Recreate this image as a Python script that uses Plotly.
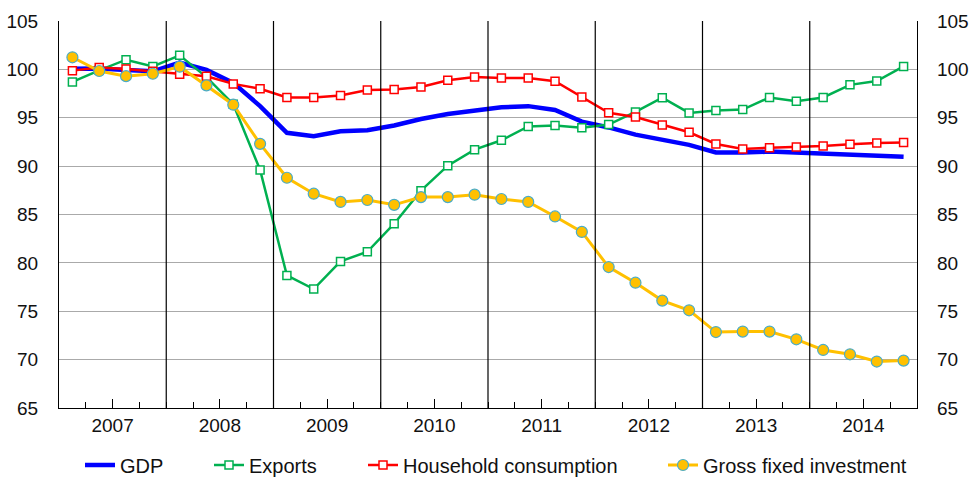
import plotly.graph_objects as go

years = ["2007", "2008", "2009", "2010", "2011", "2012", "2013", "2014"]
quarters_per_year = 4

gdp = [100.07, 100.1, 99.94, 99.8, 100.7, 99.95, 98.6, 96.2,
       93.45, 93.1, 93.6, 93.7, 94.2, 94.87, 95.39, 95.73,
       96.08, 96.2, 95.8, 94.6, 94.0, 93.25, 92.7, 92.2,
       91.42, 91.4, 91.5, 91.4, 91.3, 91.15, 91.05, 90.98]
exports = [98.7, 99.9, 101.0, 100.3, 101.45, 99.2, 96.4, 89.6,
           78.7, 77.3, 80.15, 81.15, 84.05, 87.46, 90.05, 91.7,
           92.67, 94.1, 94.2, 93.97, 94.3, 95.6, 97.07, 95.5,
           95.75, 95.85, 97.1, 96.7, 97.1, 98.4, 98.8, 100.3]
household = [99.87, 100.2, 100.04, 99.8, 99.5, 99.28, 98.5, 98.0,
             97.1, 97.1, 97.3, 97.87, 97.93, 98.18, 98.87, 99.2,
             99.1, 99.1, 98.77, 97.15, 95.52, 95.08, 94.25, 93.5,
             92.29, 91.77, 91.9, 91.98, 92.08, 92.25, 92.4, 92.43]
investment = [101.25, 99.83, 99.3, 99.55, 100.28, 98.35, 96.35, 92.3,
              88.8, 87.15, 86.3, 86.5, 86.0, 86.8, 86.8, 87.05,
              86.6, 86.3, 84.8, 83.2, 79.57, 77.95, 76.1, 75.1,
              72.85, 72.9, 72.9, 72.1, 71.0, 70.55, 69.8, 69.9]
y_ticks = [65, 70, 75, 80, 85, 90, 95, 100, 105]

n = len(gdp)
x = list(range(n))
year_centers = [i * quarters_per_year + 1.5 for i in range(len(years))]
year_bounds = [i * quarters_per_year - 0.5 for i in range(1, len(years))]

FONT = "Liberation Sans, Arial, Helvetica, sans-serif"
TXT = "#111"
W, H = 971, 477
fig = go.Figure()

fig.add_trace(go.Scatter(x=x, y=gdp, name="GDP", mode="lines",
                         line=dict(color="#0000FF", width=4.5), legend="legend"))
fig.add_trace(go.Scatter(x=x, y=exports, name="Exports", mode="lines+markers",
                         line=dict(color="#00B050", width=2.5),
                         marker=dict(symbol="square", size=8, color="white",
                                     line=dict(color="#00B050", width=1.5)),
                         legend="legend2"))
fig.add_trace(go.Scatter(x=x, y=household, name="Household consumption", mode="lines+markers",
                         line=dict(color="#FF0000", width=2.5),
                         marker=dict(symbol="square", size=8, color="white",
                                     line=dict(color="#FF0000", width=1.5)),
                         legend="legend3"))
fig.add_trace(go.Scatter(x=x, y=investment, name="Gross fixed investment", mode="lines+markers",
                         line=dict(color="#FFC000", width=3),
                         marker=dict(symbol="circle", size=11, color="#FFC000",
                                     line=dict(color="#4BACC6", width=1.2)),
                         legend="legend4"))
# invisible trace to activate the right-hand axis
fig.add_trace(go.Scatter(x=[x[0]], y=[gdp[0]], yaxis="y2", mode="markers",
                         marker=dict(opacity=0), showlegend=False, hoverinfo="skip"))

for b in year_bounds:
    fig.add_shape(type="line", xref="x", yref="paper", x0=b, x1=b, y0=0, y1=1,
                  line=dict(color="black", width=1.2), layer="above")

yaxis_common = dict(range=[65, 105], tickvals=y_ticks, showline=True, linecolor="black",
                    linewidth=1.2, ticks="outside", tickcolor="rgba(0,0,0,0)",
                    tickfont=dict(size=19, color=TXT, family=FONT), zeroline=False,
                    automargin=False)

legend_common = dict(orientation="h", yref="container", xref="container",
                     yanchor="middle", y=(H - 465) / H, xanchor="left",
                     font=dict(size=20, color=TXT, family=FONT),
                     bgcolor="rgba(0,0,0,0)", borderwidth=0, tracegroupgap=0)

def lx(px):
    return px / W

fig.update_layout(
    width=W, height=H,
    margin=dict(l=59, r=54, t=21, b=69, autoexpand=False),
    plot_bgcolor="white", paper_bgcolor="white",
    font=dict(family=FONT, size=19, color=TXT),
    xaxis=dict(range=[-0.5, n - 0.5], tickvals=year_centers, ticktext=years,
               ticks="inside", ticklen=9, tickcolor="black", tickwidth=1,
               showline=True, linecolor="black", linewidth=1.2, showgrid=False,
               zeroline=False, automargin=False,
               tickfont=dict(size=19, color=TXT, family=FONT),
               minor=dict(tickmode="linear", tick0=-0.5, dtick=1, ticks="inside",
                          ticklen=6, tickcolor="black", tickwidth=1, showgrid=False)),
    yaxis=dict(**yaxis_common, ticklen=16, showgrid=True, gridcolor="#AAAAAA", gridwidth=1),
    yaxis2=dict(**yaxis_common, ticklen=15, overlaying="y", side="right", showgrid=False),
    legend=dict(**legend_common, x=lx(80)),
    legend2=dict(**legend_common, x=lx(209)),
    legend3=dict(**legend_common, x=lx(363)),
    legend4=dict(**legend_common, x=lx(663)),
    showlegend=True,
)

fig.write_html("out.html", config={"displayModeBar": False},
               post_script="document.body.style.margin='0';document.body.style.overflow='hidden';")
